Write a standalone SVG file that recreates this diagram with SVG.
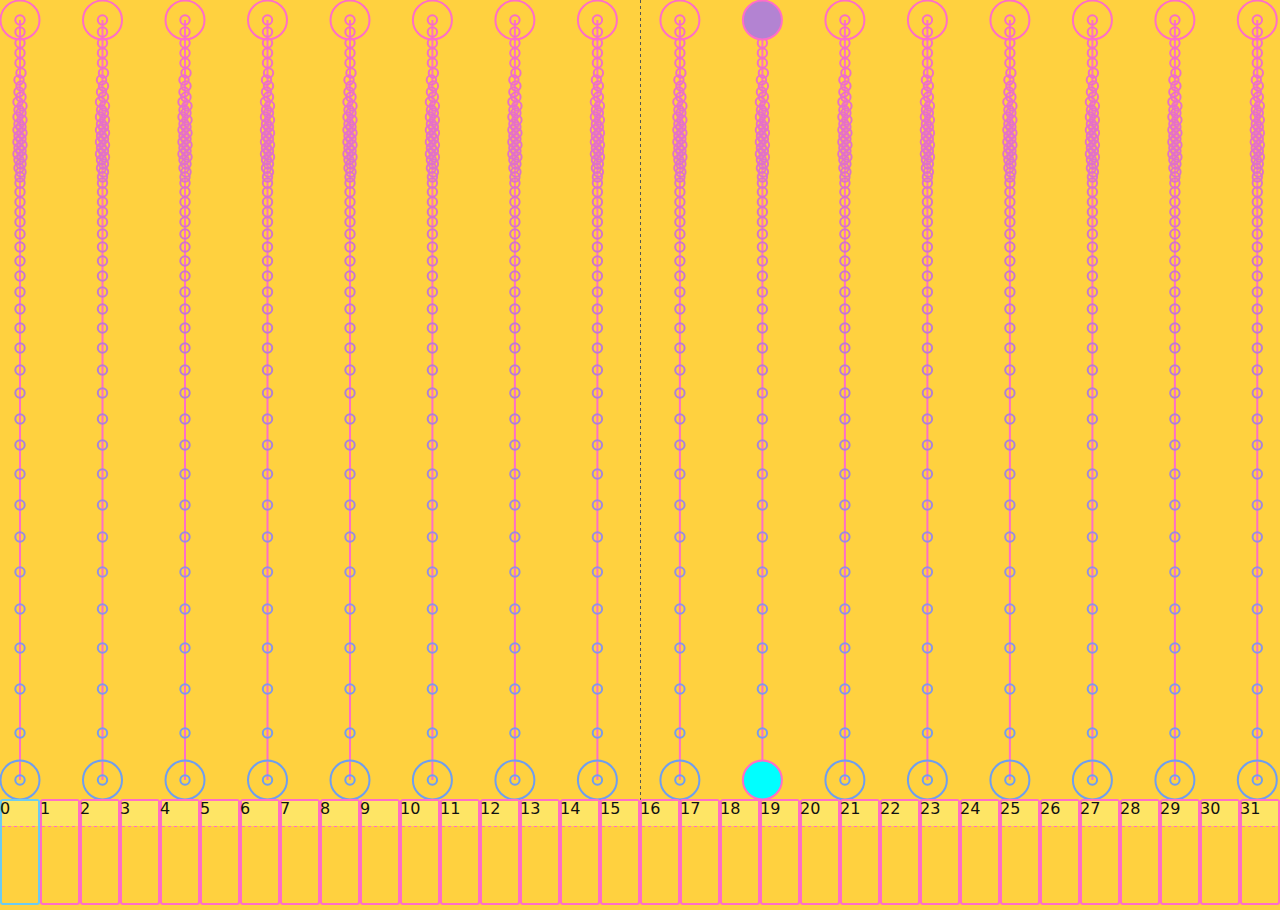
<svg xmlns="http://www.w3.org/2000/svg" width="1280" height="910" viewBox="0 0 1280 910">
<style>
.bg{fill:#ffd13f}
.ln{stroke:#ff6ec7;stroke-width:2;fill:none}
.d{fill:none;stroke:url(#grad);stroke-width:2}
.top{fill:none;stroke:#ff6ec7;stroke-width:2}
.bot{fill:none;stroke:#6f9ef0;stroke-width:2}
.cell{fill:#ffd13f;stroke:#ff6ec7;stroke-width:2}
.cell0{fill:#ffd13f;stroke:#6ccbf2;stroke-width:2}
.hd{fill:#fee565}
.dash{stroke:#ff6ec7;stroke-width:1;stroke-dasharray:3,3}
.lbl{font-family:"DejaVu Sans",sans-serif;font-size:16px;fill:#111}
</style>
<defs>
<linearGradient id="grad" gradientUnits="userSpaceOnUse" x1="0" y1="20" x2="0" y2="780">
<stop offset="0" stop-color="#f76ec6"/>
<stop offset="0.25" stop-color="#d873c8"/>
<stop offset="0.5" stop-color="#b07fd6"/>
<stop offset="0.75" stop-color="#9390e4"/>
<stop offset="1" stop-color="#6f9ef0"/>
</linearGradient>
<g id="dots">
<line class="ln" x1="0" y1="20" x2="0" y2="780"/>
<circle class="d" cx="0" cy="20" r="4.7"/>
<circle class="d" cx="0" cy="32" r="4.7"/>
<circle class="d" cx="0" cy="43" r="4.7"/>
<circle class="d" cx="0" cy="53" r="4.7"/>
<circle class="d" cx="0" cy="63" r="4.7"/>
<circle class="d" cx="1" cy="73" r="4.7"/>
<circle class="d" cx="-1" cy="80" r="4.7"/>
<circle class="d" cx="1" cy="86" r="4.7"/>
<circle class="d" cx="-1" cy="92" r="4.7"/>
<circle class="d" cx="1" cy="97" r="4.7"/>
<circle class="d" cx="-2" cy="102" r="4.7"/>
<circle class="d" cx="2" cy="106" r="4.7"/>
<circle class="d" cx="-1" cy="110" r="4.7"/>
<circle class="d" cx="1" cy="113" r="4.7"/>
<circle class="d" cx="-2" cy="117" r="4.7"/>
<circle class="d" cx="2" cy="120" r="4.7"/>
<circle class="d" cx="-1" cy="124" r="4.7"/>
<circle class="d" cx="1" cy="127" r="4.7"/>
<circle class="d" cx="-2" cy="130" r="4.7"/>
<circle class="d" cx="2" cy="133" r="4.7"/>
<circle class="d" cx="-1" cy="136" r="4.7"/>
<circle class="d" cx="1" cy="139" r="4.7"/>
<circle class="d" cx="-2" cy="142" r="4.7"/>
<circle class="d" cx="2" cy="145" r="4.7"/>
<circle class="d" cx="-1" cy="148" r="4.7"/>
<circle class="d" cx="1" cy="151" r="4.7"/>
<circle class="d" cx="-2" cy="154" r="4.7"/>
<circle class="d" cx="2" cy="157" r="4.7"/>
<circle class="d" cx="-1" cy="160" r="4.7"/>
<circle class="d" cx="1" cy="164" r="4.7"/>
<circle class="d" cx="-1" cy="168" r="4.7"/>
<circle class="d" cx="1" cy="172" r="4.7"/>
<circle class="d" cx="0" cy="177" r="4.7"/>
<circle class="d" cx="0" cy="183" r="4.7"/>
<circle class="d" cx="0" cy="192" r="4.7"/>
<circle class="d" cx="0" cy="202" r="4.7"/>
<circle class="d" cx="0" cy="212" r="4.7"/>
<circle class="d" cx="0" cy="222" r="4.7"/>
<circle class="d" cx="0" cy="234" r="4.7"/>
<circle class="d" cx="0" cy="247" r="4.7"/>
<circle class="d" cx="0" cy="261" r="4.7"/>
<circle class="d" cx="0" cy="276" r="4.7"/>
<circle class="d" cx="0" cy="292" r="4.7"/>
<circle class="d" cx="0" cy="309" r="4.7"/>
<circle class="d" cx="0" cy="328" r="4.7"/>
<circle class="d" cx="0" cy="348" r="4.7"/>
<circle class="d" cx="0" cy="370" r="4.7"/>
<circle class="d" cx="0" cy="393" r="4.7"/>
<circle class="d" cx="0" cy="419" r="4.7"/>
<circle class="d" cx="0" cy="445" r="4.7"/>
<circle class="d" cx="0" cy="474" r="4.7"/>
<circle class="d" cx="0" cy="505" r="4.7"/>
<circle class="d" cx="0" cy="537" r="4.7"/>
<circle class="d" cx="0" cy="572" r="4.7"/>
<circle class="d" cx="0" cy="609" r="4.7"/>
<circle class="d" cx="0" cy="648" r="4.7"/>
<circle class="d" cx="0" cy="689" r="4.7"/>
<circle class="d" cx="0" cy="733" r="4.7"/>
<circle class="d" cx="0" cy="780" r="4.7"/>
</g>
</defs>
<rect class="bg" x="0" y="0" width="1280" height="910"/>
<line x1="640.5" y1="0" x2="640.5" y2="800" stroke="#555" stroke-width="1" stroke-dasharray="3,3"/>
<g id="connectors">
<use href="#dots" x="20"/>
<use href="#dots" x="102.5"/>
<use href="#dots" x="185"/>
<use href="#dots" x="267.5"/>
<use href="#dots" x="350"/>
<use href="#dots" x="432.4"/>
<use href="#dots" x="514.9"/>
<use href="#dots" x="597.4"/>
<use href="#dots" x="679.9"/>
<use href="#dots" x="762.4"/>
<use href="#dots" x="844.9"/>
<use href="#dots" x="927.4"/>
<use href="#dots" x="1009.9"/>
<use href="#dots" x="1092.4"/>
<use href="#dots" x="1174.9"/>
<use href="#dots" x="1257.3"/>
</g>
<g id="col0"><circle class="top" cx="20" cy="20" r="19.5"/><circle class="bot" cx="20" cy="780" r="19.5"/></g>
<g id="col1"><circle class="top" cx="102.5" cy="20" r="19.5"/><circle class="bot" cx="102.5" cy="780" r="19.5"/></g>
<g id="col2"><circle class="top" cx="185" cy="20" r="19.5"/><circle class="bot" cx="185" cy="780" r="19.5"/></g>
<g id="col3"><circle class="top" cx="267.5" cy="20" r="19.5"/><circle class="bot" cx="267.5" cy="780" r="19.5"/></g>
<g id="col4"><circle class="top" cx="350" cy="20" r="19.5"/><circle class="bot" cx="350" cy="780" r="19.5"/></g>
<g id="col5"><circle class="top" cx="432.4" cy="20" r="19.5"/><circle class="bot" cx="432.4" cy="780" r="19.5"/></g>
<g id="col6"><circle class="top" cx="514.9" cy="20" r="19.5"/><circle class="bot" cx="514.9" cy="780" r="19.5"/></g>
<g id="col7"><circle class="top" cx="597.4" cy="20" r="19.5"/><circle class="bot" cx="597.4" cy="780" r="19.5"/></g>
<g id="col8"><circle class="top" cx="679.9" cy="20" r="19.5"/><circle class="bot" cx="679.9" cy="780" r="19.5"/></g>
<g id="col9"><circle cx="762.4" cy="20" r="19.5" fill="#b383d2" stroke="#ff6ec7" stroke-width="2"/><circle cx="762.4" cy="780" r="19.5" fill="#00ffff" stroke="#ff6ec7" stroke-width="2"/></g>
<g id="col10"><circle class="top" cx="844.9" cy="20" r="19.5"/><circle class="bot" cx="844.9" cy="780" r="19.5"/></g>
<g id="col11"><circle class="top" cx="927.4" cy="20" r="19.5"/><circle class="bot" cx="927.4" cy="780" r="19.5"/></g>
<g id="col12"><circle class="top" cx="1009.9" cy="20" r="19.5"/><circle class="bot" cx="1009.9" cy="780" r="19.5"/></g>
<g id="col13"><circle class="top" cx="1092.4" cy="20" r="19.5"/><circle class="bot" cx="1092.4" cy="780" r="19.5"/></g>
<g id="col14"><circle class="top" cx="1174.9" cy="20" r="19.5"/><circle class="bot" cx="1174.9" cy="780" r="19.5"/></g>
<g id="col15"><circle class="top" cx="1257.3" cy="20" r="19.5"/><circle class="bot" cx="1257.3" cy="780" r="19.5"/></g>
<g id="cells">
<g id="cell0"><rect class="cell0" x="1" y="800" width="38" height="104" rx="2"/><rect class="hd" x="2" y="801" width="36" height="25"/><line class="dash" x1="2" y1="826.5" x2="38" y2="826.5"/><text class="lbl" x="0" y="814">0</text></g>
<g id="cell1"><rect class="cell" x="41" y="800" width="38" height="104" rx="2"/><rect class="hd" x="42" y="801" width="36" height="25"/><line class="dash" x1="42" y1="826.5" x2="78" y2="826.5"/><text class="lbl" x="40" y="814">1</text></g>
<g id="cell2"><rect class="cell" x="81" y="800" width="38" height="104" rx="2"/><rect class="hd" x="82" y="801" width="36" height="25"/><line class="dash" x1="82" y1="826.5" x2="118" y2="826.5"/><text class="lbl" x="80" y="814">2</text></g>
<g id="cell3"><rect class="cell" x="121" y="800" width="38" height="104" rx="2"/><rect class="hd" x="122" y="801" width="36" height="25"/><line class="dash" x1="122" y1="826.5" x2="158" y2="826.5"/><text class="lbl" x="120" y="814">3</text></g>
<g id="cell4"><rect class="cell" x="161" y="800" width="38" height="104" rx="2"/><rect class="hd" x="162" y="801" width="36" height="25"/><line class="dash" x1="162" y1="826.5" x2="198" y2="826.5"/><text class="lbl" x="160" y="814">4</text></g>
<g id="cell5"><rect class="cell" x="201" y="800" width="38" height="104" rx="2"/><rect class="hd" x="202" y="801" width="36" height="25"/><line class="dash" x1="202" y1="826.5" x2="238" y2="826.5"/><text class="lbl" x="200" y="814">5</text></g>
<g id="cell6"><rect class="cell" x="241" y="800" width="38" height="104" rx="2"/><rect class="hd" x="242" y="801" width="36" height="25"/><line class="dash" x1="242" y1="826.5" x2="278" y2="826.5"/><text class="lbl" x="240" y="814">6</text></g>
<g id="cell7"><rect class="cell" x="281" y="800" width="38" height="104" rx="2"/><rect class="hd" x="282" y="801" width="36" height="25"/><line class="dash" x1="282" y1="826.5" x2="318" y2="826.5"/><text class="lbl" x="280" y="814">7</text></g>
<g id="cell8"><rect class="cell" x="321" y="800" width="38" height="104" rx="2"/><rect class="hd" x="322" y="801" width="36" height="25"/><line class="dash" x1="322" y1="826.5" x2="358" y2="826.5"/><text class="lbl" x="320" y="814">8</text></g>
<g id="cell9"><rect class="cell" x="361" y="800" width="38" height="104" rx="2"/><rect class="hd" x="362" y="801" width="36" height="25"/><line class="dash" x1="362" y1="826.5" x2="398" y2="826.5"/><text class="lbl" x="360" y="814">9</text></g>
<g id="cell10"><rect class="cell" x="401" y="800" width="38" height="104" rx="2"/><rect class="hd" x="402" y="801" width="36" height="25"/><line class="dash" x1="402" y1="826.5" x2="438" y2="826.5"/><text class="lbl" x="400" y="814">10</text></g>
<g id="cell11"><rect class="cell" x="441" y="800" width="38" height="104" rx="2"/><rect class="hd" x="442" y="801" width="36" height="25"/><line class="dash" x1="442" y1="826.5" x2="478" y2="826.5"/><text class="lbl" x="440" y="814">11</text></g>
<g id="cell12"><rect class="cell" x="481" y="800" width="38" height="104" rx="2"/><rect class="hd" x="482" y="801" width="36" height="25"/><line class="dash" x1="482" y1="826.5" x2="518" y2="826.5"/><text class="lbl" x="480" y="814">12</text></g>
<g id="cell13"><rect class="cell" x="521" y="800" width="38" height="104" rx="2"/><rect class="hd" x="522" y="801" width="36" height="25"/><line class="dash" x1="522" y1="826.5" x2="558" y2="826.5"/><text class="lbl" x="520" y="814">13</text></g>
<g id="cell14"><rect class="cell" x="561" y="800" width="38" height="104" rx="2"/><rect class="hd" x="562" y="801" width="36" height="25"/><line class="dash" x1="562" y1="826.5" x2="598" y2="826.5"/><text class="lbl" x="560" y="814">14</text></g>
<g id="cell15"><rect class="cell" x="601" y="800" width="38" height="104" rx="2"/><rect class="hd" x="602" y="801" width="36" height="25"/><line class="dash" x1="602" y1="826.5" x2="638" y2="826.5"/><text class="lbl" x="600" y="814">15</text></g>
<g id="cell16"><rect class="cell" x="641" y="800" width="38" height="104" rx="2"/><rect class="hd" x="642" y="801" width="36" height="25"/><line class="dash" x1="642" y1="826.5" x2="678" y2="826.5"/><text class="lbl" x="640" y="814">16</text></g>
<g id="cell17"><rect class="cell" x="681" y="800" width="38" height="104" rx="2"/><rect class="hd" x="682" y="801" width="36" height="25"/><line class="dash" x1="682" y1="826.5" x2="718" y2="826.5"/><text class="lbl" x="680" y="814">17</text></g>
<g id="cell18"><rect class="cell" x="721" y="800" width="38" height="104" rx="2"/><rect class="hd" x="722" y="801" width="36" height="25"/><line class="dash" x1="722" y1="826.5" x2="758" y2="826.5"/><text class="lbl" x="720" y="814">18</text></g>
<g id="cell19"><rect class="cell" x="761" y="800" width="38" height="104" rx="2"/><rect class="hd" x="762" y="801" width="36" height="25"/><line class="dash" x1="762" y1="826.5" x2="798" y2="826.5"/><text class="lbl" x="760" y="814">19</text></g>
<g id="cell20"><rect class="cell" x="801" y="800" width="38" height="104" rx="2"/><rect class="hd" x="802" y="801" width="36" height="25"/><line class="dash" x1="802" y1="826.5" x2="838" y2="826.5"/><text class="lbl" x="800" y="814">20</text></g>
<g id="cell21"><rect class="cell" x="841" y="800" width="38" height="104" rx="2"/><rect class="hd" x="842" y="801" width="36" height="25"/><line class="dash" x1="842" y1="826.5" x2="878" y2="826.5"/><text class="lbl" x="840" y="814">21</text></g>
<g id="cell22"><rect class="cell" x="881" y="800" width="38" height="104" rx="2"/><rect class="hd" x="882" y="801" width="36" height="25"/><line class="dash" x1="882" y1="826.5" x2="918" y2="826.5"/><text class="lbl" x="880" y="814">22</text></g>
<g id="cell23"><rect class="cell" x="921" y="800" width="38" height="104" rx="2"/><rect class="hd" x="922" y="801" width="36" height="25"/><line class="dash" x1="922" y1="826.5" x2="958" y2="826.5"/><text class="lbl" x="920" y="814">23</text></g>
<g id="cell24"><rect class="cell" x="961" y="800" width="38" height="104" rx="2"/><rect class="hd" x="962" y="801" width="36" height="25"/><line class="dash" x1="962" y1="826.5" x2="998" y2="826.5"/><text class="lbl" x="960" y="814">24</text></g>
<g id="cell25"><rect class="cell" x="1001" y="800" width="38" height="104" rx="2"/><rect class="hd" x="1002" y="801" width="36" height="25"/><line class="dash" x1="1002" y1="826.5" x2="1038" y2="826.5"/><text class="lbl" x="1000" y="814">25</text></g>
<g id="cell26"><rect class="cell" x="1041" y="800" width="38" height="104" rx="2"/><rect class="hd" x="1042" y="801" width="36" height="25"/><line class="dash" x1="1042" y1="826.5" x2="1078" y2="826.5"/><text class="lbl" x="1040" y="814">26</text></g>
<g id="cell27"><rect class="cell" x="1081" y="800" width="38" height="104" rx="2"/><rect class="hd" x="1082" y="801" width="36" height="25"/><line class="dash" x1="1082" y1="826.5" x2="1118" y2="826.5"/><text class="lbl" x="1080" y="814">27</text></g>
<g id="cell28"><rect class="cell" x="1121" y="800" width="38" height="104" rx="2"/><rect class="hd" x="1122" y="801" width="36" height="25"/><line class="dash" x1="1122" y1="826.5" x2="1158" y2="826.5"/><text class="lbl" x="1120" y="814">28</text></g>
<g id="cell29"><rect class="cell" x="1161" y="800" width="38" height="104" rx="2"/><rect class="hd" x="1162" y="801" width="36" height="25"/><line class="dash" x1="1162" y1="826.5" x2="1198" y2="826.5"/><text class="lbl" x="1160" y="814">29</text></g>
<g id="cell30"><rect class="cell" x="1201" y="800" width="38" height="104" rx="2"/><rect class="hd" x="1202" y="801" width="36" height="25"/><line class="dash" x1="1202" y1="826.5" x2="1238" y2="826.5"/><text class="lbl" x="1200" y="814">30</text></g>
<g id="cell31"><rect class="cell" x="1241" y="800" width="38" height="104" rx="2"/><rect class="hd" x="1242" y="801" width="36" height="25"/><line class="dash" x1="1242" y1="826.5" x2="1278" y2="826.5"/><text class="lbl" x="1240" y="814">31</text></g>
</g>
</svg>
